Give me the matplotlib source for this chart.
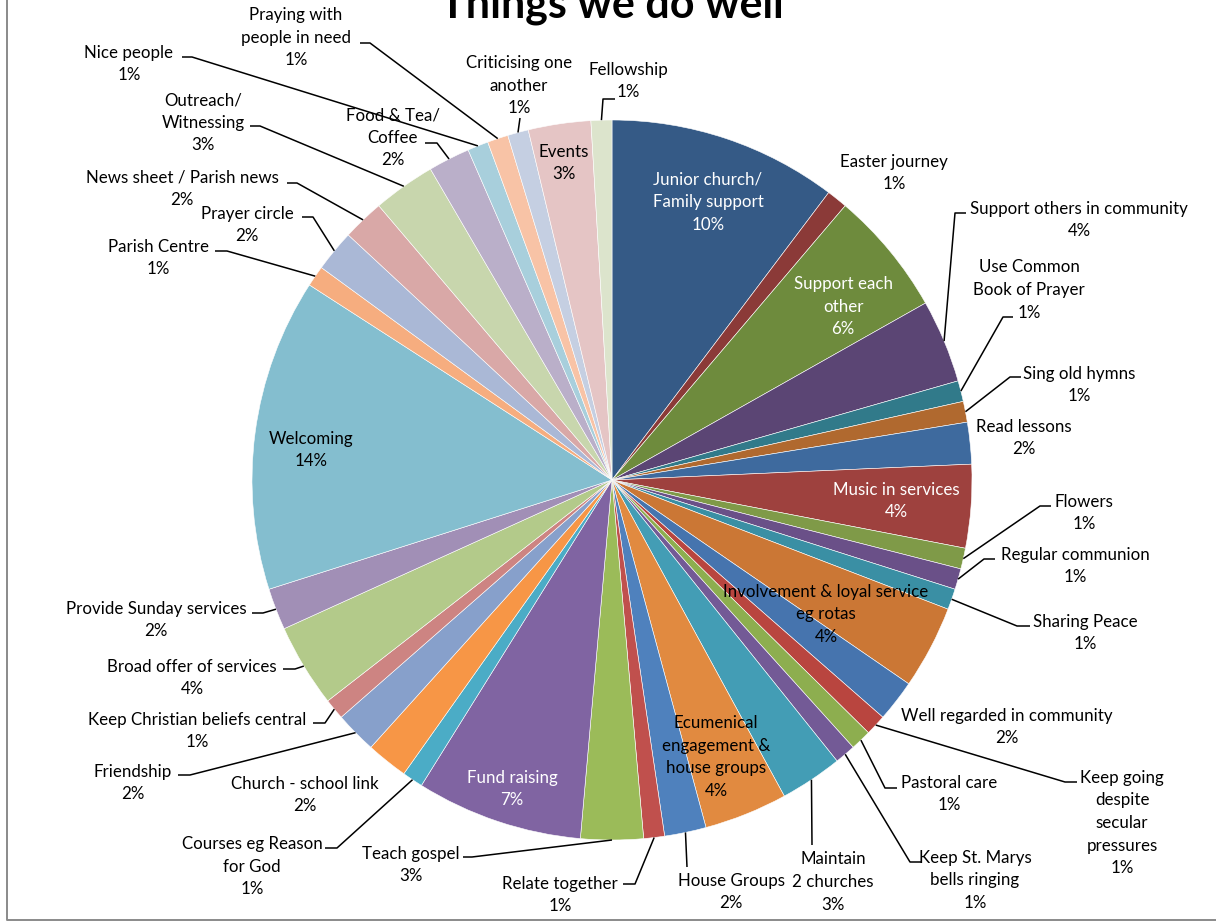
import numpy as np
import matplotlib.pyplot as plt

W, H = 1216, 922

# survey answers, clockwise from 12 o'clock
activities = [
    "Junior church/\nFamily support", "Easter journey", "Support each\nother",
    "Support others in community", "Use Common\nBook of Prayer", "Sing old hymns",
    "Read lessons", "Music in services", "Flowers", "Regular communion",
    "Sharing Peace", "Involvement & loyal service\neg rotas", "Well regarded in community",
    "Keep going\ndespite\nsecular\npressures", "Pastoral care", "Keep St. Marys\nbells ringing",
    "Maintain\n2 churches", "Ecumenical\nengagement &\nhouse groups", "House Groups",
    "Relate together", "Teach gospel", "Fund raising", "Courses eg Reason\nfor God",
    "Church - school link", "Friendship", "Keep Christian beliefs central",
    "Broad offer of services", "Provide Sunday services", "Welcoming", "Parish Centre",
    "Prayer circle", "News sheet / Parish news", "Outreach/\nWitnessing",
    "Food & Tea/\nCoffee", "Nice people", "Praying with\npeople in need",
    "Criticising one\nanother", "Events", "Fellowship",
]
responses = [11, 1, 6, 4, 1, 1, 2, 4, 1, 1,
             1, 4, 2, 1, 1, 1, 3, 4, 2, 1,
             3, 8, 1, 2, 2, 1, 4, 2, 15, 1,
             2, 2, 3, 2, 1, 1, 1, 3, 1]

colors = [
    "#355a86", "#8b3a38", "#6e8b3d", "#5b4574", "#317a8a", "#b0692f", "#3e6a9e",
    "#9e413e", "#7f9a48", "#6a5088", "#3a8fa4", "#cb7735", "#4674ae", "#b9453f",
    "#8dae4f", "#735a96", "#439db5", "#e18a40", "#4f81bd", "#c0504d", "#9bbb59",
    "#8064a2", "#4bacc6", "#f79646", "#87a0cb", "#cd8482", "#b3ca8a", "#a18fb6",
    "#84becf", "#f6ad7f", "#aab8d6", "#d9a8a7", "#c8d6ad", "#baafc9", "#a8cfdc",
    "#f8c3a6", "#c5cfe2", "#e5c5c5", "#dce4cc",
]

# label placement in screen pixels (from top-left): text centre, text colour, leader bends
label_layout = [
    ((708, 200), "white", None),
    ((894, 171), "black", None),
    ((843, 305), "white", None),
    ((1079, 218), "black", [(955, 213), (966, 213)]),
    ((1029, 288), "black", [(1003, 317), (1013, 317)]),
    ((1079, 383), "black", [(1010, 377), (1021, 377)]),
    ((1024, 436), "black", None),
    ((896, 499), "white", None),
    ((1084, 511), "black", [(1040, 506), (1051, 506)]),
    ((1075, 564), "black", [(984, 559), (995, 559)]),
    ((1085, 631), "black", [(1017, 626), (1030, 626)]),
    ((826, 612), "black", None),
    ((1007, 725), "black", None),
    ((1122, 821), "black", [(1065, 782), (1077, 782)]),
    ((949, 792), "black", [(885, 788), (897, 788)]),
    ((975, 878), "black", [(910, 862), (922, 862)]),
    ((833, 880), "black", [(812, 845)]),
    ((716, 755), "black", None),
    ((731, 890), "black", [(687, 867)]),
    ((560, 893), "black", [(635, 884), (623, 884)]),
    ((411, 863), "black", [(472, 857), (463, 857)]),
    ((512, 787), "white", None),
    ((252, 865), "black", [(337, 848), (325, 848)]),
    ((305, 793), "black", None),
    ((133, 781), "black", [(190, 775), (178, 775)]),
    ((197, 729), "black", [(325, 723), (313, 723)]),
    ((192, 676), "black", [(295, 669), (283, 669)]),
    ((156, 618), "black", [(263, 613), (252, 613)]),
    ((311, 448), "black", None),
    ((158, 256), "black", [(227, 251), (215, 251)]),
    ((247, 223), "black", [(313, 217), (302, 217)]),
    ((182, 187), "black", [(297, 183), (287, 183)]),
    ((203, 121), "black", [(260, 126), (250, 126)]),
    ((393, 136), "black", [(437, 143), (425, 143)]),
    ((129, 62), "black", [(192, 57), (182, 57)]),
    ((296, 36), "black", [(370, 43), (360, 43)]),
    ((519, 84), "black", [(520, 118)]),
    ((564, 161), "black", None),
    ((628, 79), "black", [(603, 99), (615, 99)]),
]

plt.rcParams["font.family"] = ["Lato", "DejaVu Sans"]

fig = plt.figure(figsize=(W / 100, H / 100), dpi=100)
ax = fig.add_axes([0, 0, 1, 1])

cx, cy, R = 612, H - 480, 360
wedges, _ = ax.pie(responses, colors=colors, startangle=90, counterclock=False,
                   center=(cx, cy), radius=R,
                   wedgeprops=dict(edgecolor="white", linewidth=0.4))
ax.set_xlim(0, W)
ax.set_ylim(0, H)
ax.set_aspect("equal")
ax.axis("off")

total = sum(responses)
for w, name, n, (pos, tcol, bends) in zip(wedges, activities, responses, label_layout):
    pct = f"{round(100 * n / total)}%"
    ax.text(pos[0], H - pos[1] - 2, f"{name}\n{pct}", ha="center", va="center",
            fontsize=12.2, color=tcol, linespacing=1.5)
    if bends:
        mid = np.deg2rad((w.theta1 + w.theta2) / 2)
        xs = [cx + R * np.cos(mid)] + [b[0] for b in bends]
        ys = [cy + R * np.sin(mid)] + [H - b[1] for b in bends]
        ax.plot(xs, ys, color="black", lw=1.1, solid_capstyle="butt")

ax.text(612, H - 18, "Things we do well", ha="center", va="baseline",
        fontsize=31, fontweight="bold")

# chart frame, only left and bottom edges fall inside the image
ax.plot([7, 7, W + 5], [H + 5, H - 920, H - 920], color="#8a8a8a", lw=1.4)

fig.savefig("out.png", dpi=100)
